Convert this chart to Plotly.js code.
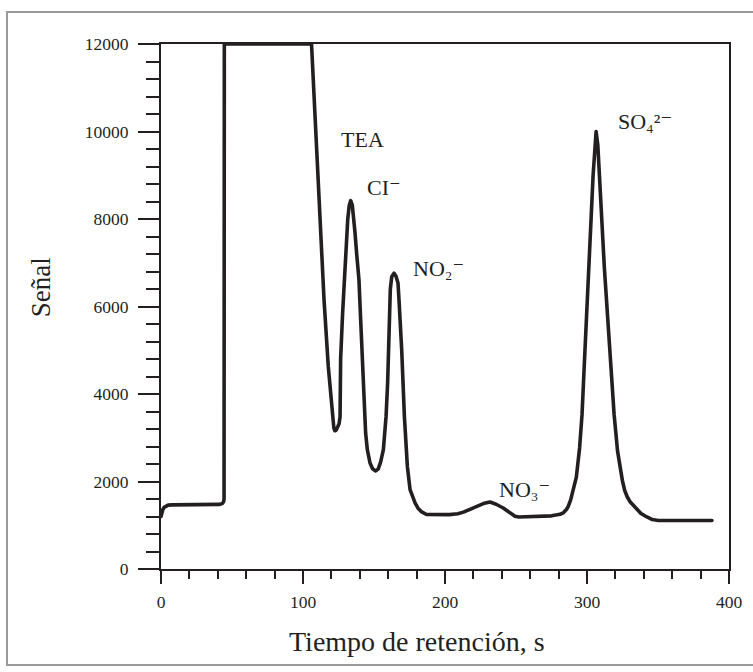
<!DOCTYPE html>
<html>
<head>
<meta charset="utf-8">
<script src="https://cdn.plot.ly/plotly-3.0.1.min.js"></script>
<style>
  html, body { margin: 0; padding: 0; background: #fff; }
  #chart { width: 753px; height: 672px; }
  path.js-line { stroke-linejoin: round; stroke-linecap: round; }
</style>
</head>
<body>
<div id="chart"></div>
<script>
// ---- data ----
const timeS = [0, 0.6, 1.3, 2.2, 3.3, 5, 8, 15, 25, 35, 41.5, 43.3, 44.1, 44.4, 44.6, 106, 109, 112.3, 114.8, 117.8, 119.7, 120.9, 121.7, 122.4, 123.3, 124.3, 125.4, 126.1, 126.3, 126.5, 127.9, 129.1, 130.3, 131.5, 132.5, 133.6, 134.7, 135.6, 136.1, 136.6, 137.8, 139.4, 140.4, 141.5, 142.3, 143.2, 144.1, 145.3, 147.2, 149, 151.2, 153, 154.7, 156.6, 158.5, 159.6, 160.3, 160.9, 161.5, 162.5, 164.1, 165.5, 166.9, 167.6, 168.6, 169.5, 171.4, 173.5, 175.4, 178.9, 181, 183.6, 187, 195, 203, 209, 213, 218, 222.3, 227, 231.7, 236, 241, 245, 249.3, 252, 265, 275, 281, 283.5, 285.5, 286.8, 288.5, 290, 291.5, 292.5, 294.8, 296.5, 298, 299.5, 301.3, 302.9, 304.3, 305.4, 306.4, 307.6, 308.8, 309.9, 312.2, 314.5, 316.8, 319.1, 321.5, 323.5, 324.9, 326.5, 328.3, 330.5, 334.1, 338, 342.2, 346, 350.3, 388];
const signal = [1200, 1290, 1360, 1410, 1440, 1460, 1465, 1468, 1470, 1472, 1478, 1500, 1540, 1600, 12000, 12000, 9980, 7760, 6156, 4631, 3870, 3413, 3230, 3160, 3170, 3240, 3320, 3480, 4200, 4800, 5851, 6613, 7374, 7984, 8300, 8420, 8320, 8080, 7900, 7700, 7200, 6613, 5851, 5000, 4400, 3870, 3108, 2727, 2423, 2290, 2240, 2290, 2450, 2727, 3488, 4251, 5013, 5900, 6400, 6680, 6760, 6690, 6537, 6156, 5600, 5013, 3488, 2345, 1813, 1509, 1390, 1305, 1245, 1238, 1242, 1262, 1300, 1370, 1431, 1495, 1530, 1480, 1394, 1300, 1205, 1188, 1195, 1215, 1250, 1290, 1360, 1430, 1580, 1760, 1950, 2100, 2773, 3527, 4600, 5773, 6950, 8021, 9000, 9650, 10000, 9700, 8900, 8021, 6900, 5773, 4650, 3527, 2700, 2250, 2025, 1800, 1652, 1530, 1400, 1270, 1190, 1130, 1110, 1110];

const xTickVals = [0, 100, 200, 300, 400];
const xTickText = ['0', '100', '200', '300', '400'];
const yTickVals = [0, 2000, 4000, 6000, 8000, 10000, 12000];
const yTickText = ['0', '2000', '4000', '6000', '8000', '10000', '12000'];

const xTitle = 'Tiempo de retención, s';
const yTitle = 'Señal';

// peak labels and where they sit (s, signal)
const peakLabels = ['TEA', 'CI⁻', 'NO₂⁻', 'NO₃⁻', 'SO₄²⁻'];
const peakLabelX = [126.8, 145.3, 177.3, 238.0, 322.0];
const peakLabelY = [9817, 8715, 6864, 1813, 10224];

// ---- styling ----
const INK = '#231f20';
const FONT = '"Liberation Serif", "DejaVu Serif", serif';

const annotations = peakLabels.map(function (txt, i) {
  return {
    text: txt, x: peakLabelX[i], y: peakLabelY[i], xref: 'x', yref: 'y',
    xanchor: 'left', yanchor: 'middle', showarrow: false,
    borderpad: 0, borderwidth: 0,
    font: { family: FONT, size: 22, color: INK }
  };
});

annotations.push({
  text: xTitle, xref: 'paper', yref: 'paper', x: 0.4507, y: -0.139,
  xanchor: 'center', yanchor: 'middle', showarrow: false,
  font: { family: FONT, size: 28, color: INK }
});
annotations.push({
  text: yTitle, xref: 'paper', yref: 'paper', x: -0.2113, y: 0.5368,
  xanchor: 'center', yanchor: 'middle', showarrow: false, textangle: -90,
  font: { family: FONT, size: 27, color: INK }
});

const trace = {
  type: 'scatter', mode: 'lines',
  x: timeS, y: signal,
  line: { color: INK, width: 3.6, shape: 'linear' },
  hoverinfo: 'skip'
};

const layout = {
  width: 753, height: 672,
  margin: { l: 161, r: 24, t: 44, b: 103, pad: 0 },
  paper_bgcolor: '#ffffff', plot_bgcolor: '#ffffff',
  showlegend: false,
  font: { family: FONT, color: INK },
  xaxis: {
    range: [0, 400], tickmode: 'array', tickvals: xTickVals, ticktext: xTickText,
    ticks: 'outside', ticklen: 13, tickwidth: 2, tickcolor: INK,
    showline: true, linewidth: 2, linecolor: INK, mirror: true,
    showgrid: false, zeroline: false,
    tickfont: { family: FONT, size: 17.5, color: INK },
    ticklabelstandoff: 3,
    minor: { tickmode: 'linear', tick0: 0, dtick: 20, ticks: 'outside', ticklen: 8, tickwidth: 2, tickcolor: INK, showgrid: false }
  },
  yaxis: {
    range: [0, 12000], tickmode: 'array', tickvals: yTickVals, ticktext: yTickText,
    ticks: 'outside', ticklen: 21, tickwidth: 2, tickcolor: INK,
    showline: true, linewidth: 2, linecolor: INK, mirror: true,
    showgrid: false, zeroline: false,
    tickfont: { family: FONT, size: 17.5, color: INK },
    ticklabelstandoff: 6,
    minor: { tickmode: 'linear', tick0: 0, dtick: 400, ticks: 'outside', ticklen: 13, tickwidth: 2, tickcolor: INK, showgrid: false }
  },
  shapes: [{
    type: 'rect', xref: 'paper', yref: 'paper',
    x0: -0.2711, x1: 1.1, y0: -0.1829, y1: 1.061,
    line: { color: '#9a9a9a', width: 2 }, fillcolor: 'rgba(0,0,0,0)', layer: 'below'
  }],
  annotations: annotations
};

Plotly.newPlot('chart', [trace], layout, { staticPlot: true, displayModeBar: false });
</script>
</body>
</html>
